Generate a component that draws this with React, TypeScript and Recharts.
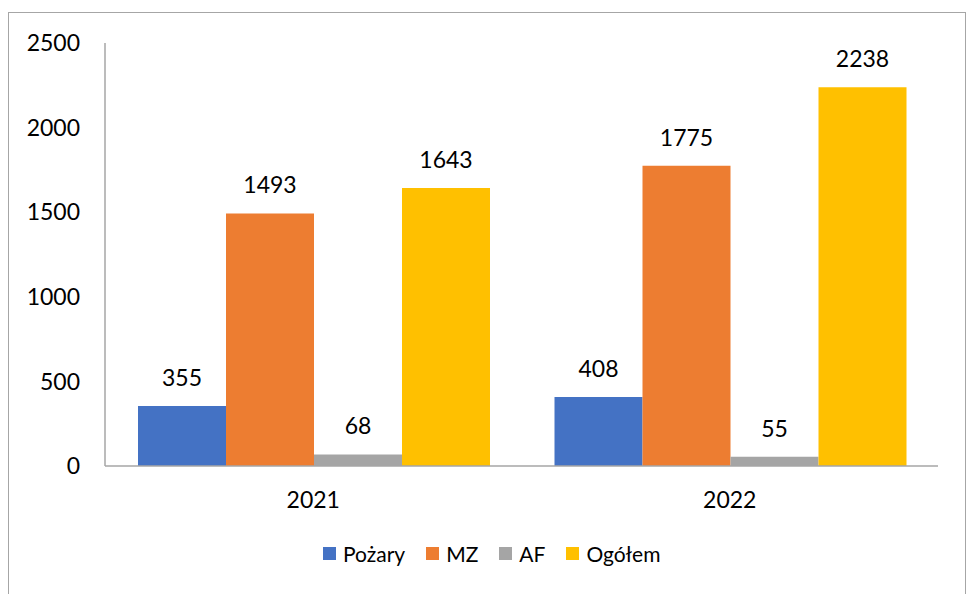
import React from "react"
import { BarChart, Bar, XAxis, YAxis, Legend, LabelList } from "recharts"

const YEARS = ["2021", "2022"]
const POZARY = [355, 408]
const MZ = [1493, 1775]
const AF = [68, 55]
const OGOLEM = [1643, 2238]
const Y_TICKS = [0, 500, 1000, 1500, 2000, 2500]

const SERIES = [
  { key: "pozary", name: "Pożary", color: "#4472C4" },
  { key: "mz", name: "MZ", color: "#ED7D31" },
  { key: "af", name: "AF", color: "#A5A5A5" },
  { key: "ogolem", name: "Ogółem", color: "#FFC000" },
]

const data = YEARS.map((year, i) => ({
  year,
  pozary: POZARY[i],
  mz: MZ[i],
  af: AF[i],
  ogolem: OGOLEM[i],
}))

const FONT = "Lato, 'Open Sans', sans-serif"

function LegendContent() {
  return (
    <div style={{ display: "flex", alignItems: "center", fontFamily: FONT, fontSize: 21, color: "#000" }}>
      {SERIES.map((s) => (
        <div key={s.key} style={{ display: "flex", alignItems: "center", marginRight: 21 }}>
          <span style={{ width: 13, height: 13, background: s.color, display: "inline-block", marginRight: 7 }} />
          <span>{s.name}</span>
        </div>
      ))}
    </div>
  )
}

export default function App() {
  return (
    <div style={{ position: "fixed", left: 0, top: 0, width: 971, height: 594, background: "#fff" }}>
      <div
        style={{
          position: "absolute",
          left: 8,
          top: 12,
          width: 958,
          height: 620,
          border: "1.5px solid #a6a6a6",
          boxSizing: "border-box",
        }}
      />
      <BarChart
        width={971}
        height={594}
        data={data}
        margin={{ top: 43, right: 33, left: 45, bottom: 98 }}
        barCategoryGap={33}
        barGap={0}
        style={{ position: "absolute", left: 0, top: 0 }}
      >
        <XAxis
          dataKey="year"
          height={30}
          tickSize={0}
          tickMargin={26}
          axisLine={{ stroke: "#a6a6a6", strokeWidth: 1.5 }}
          tick={{ fill: "#000", fontSize: 23, fontFamily: FONT }}
        />
        <YAxis
          width={60}
          domain={[0, 2500]}
          ticks={Y_TICKS}
          tickSize={0}
          tickMargin={25}
          axisLine={{ stroke: "#a6a6a6", strokeWidth: 1.5 }}
          tick={{ fill: "#000", fontSize: 23, fontFamily: FONT }}
        />
        <Legend
          layout="horizontal"
          verticalAlign="middle"
          align="center"
          content={<LegendContent />}
          wrapperStyle={{ position: "absolute", top: 541, left: 323, width: "auto", height: 30 }}
        />
        {SERIES.map((s) => (
          <Bar key={s.key} dataKey={s.key} name={s.name} fill={s.color} isAnimationActive={false}>
            <LabelList
              dataKey={s.key}
              position="top"
              offset={20}
              style={{ fill: "#000", fontSize: 23, fontFamily: FONT }}
            />
          </Bar>
        ))}
      </BarChart>
    </div>
  )
}
